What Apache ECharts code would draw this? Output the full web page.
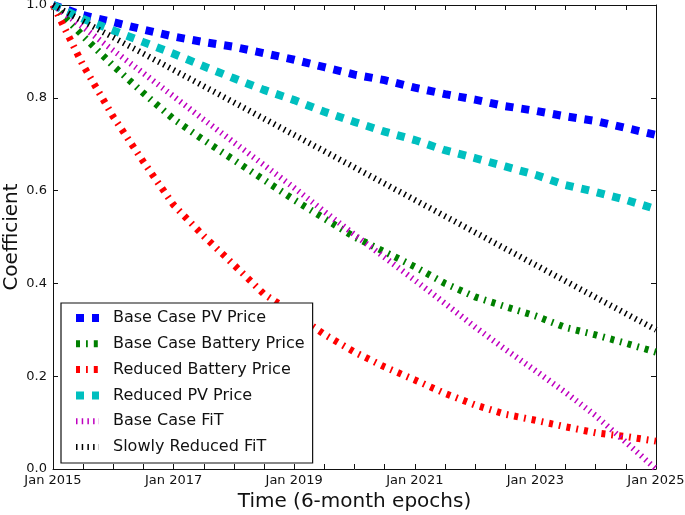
<!DOCTYPE html>
<html>
<head>
<meta charset="utf-8">
<script src="https://cdn.jsdelivr.net/npm/echarts@6/dist/echarts.min.js"></script>
<style>
html, body { margin: 0; padding: 0; background: #fff; }
#coef { width: 685px; height: 515px; }
</style>
</head>
<body>
<div id="coef"></div>
<script>
// 6-month epochs, Jan 2015 .. Jan 2025
var epochs = ['Jan 2015', 'Jul 2015', 'Jan 2016', 'Jul 2016', 'Jan 2017', 'Jul 2017', 'Jan 2018', 'Jul 2018',
  'Jan 2019', 'Jul 2019', 'Jan 2020', 'Jul 2020', 'Jan 2021', 'Jul 2021', 'Jan 2022', 'Jul 2022',
  'Jan 2023', 'Jul 2023', 'Jan 2024', 'Jul 2024', 'Jan 2025']
var yTicks = [0, 0.2, 0.4, 0.6, 0.8, 1.0]

var basePV = [1.0, 0.978, 0.963, 0.947, 0.932, 0.92, 0.91, 0.896, 0.882, 0.866, 0.85, 0.838, 0.822, 0.808, 0.796, 0.782, 0.772, 0.76, 0.75, 0.735, 0.72]
var baseBattery = [1.0, 0.933, 0.869, 0.81, 0.754, 0.709, 0.666, 0.623, 0.58, 0.54, 0.5, 0.468, 0.436, 0.4, 0.371, 0.35, 0.33, 0.305, 0.289, 0.271, 0.252]
var reducedBattery = [1.0, 0.87, 0.759, 0.662, 0.569, 0.502, 0.44, 0.377, 0.335, 0.29, 0.252, 0.22, 0.192, 0.163, 0.138, 0.118, 0.105, 0.091, 0.078, 0.07, 0.06]
var reducedPV = [1.0, 0.97, 0.945, 0.92, 0.895, 0.868, 0.842, 0.817, 0.795, 0.77, 0.748, 0.727, 0.709, 0.687, 0.67, 0.652, 0.634, 0.612, 0.597, 0.58, 0.56]
var baseFiT = [1.0, 0.952, 0.902, 0.853, 0.803, 0.753, 0.704, 0.655, 0.606, 0.555, 0.505, 0.456, 0.407, 0.357, 0.306, 0.258, 0.212, 0.165, 0.115, 0.058, 0.0]
var slowFiT = [1.0, 0.965, 0.93, 0.895, 0.86, 0.825, 0.79, 0.755, 0.72, 0.685, 0.65, 0.615, 0.58, 0.545, 0.51, 0.475, 0.44, 0.405, 0.37, 0.335, 0.30]

var FONT = 'DejaVu Sans'
var INK = '#111'

// name, data, colour, width, dash
var lines = [
  ['Base Case PV Price', basePV, '#0000ff', 8, [8, 8]],
  ['Base Case Battery Price', baseBattery, '#008000', 7, [4, 6, 1.8, 6]],
  ['Reduced Battery Price', reducedBattery, '#ff0000', 7, [4, 6, 1.8, 6]],
  ['Reduced PV Price', reducedPV, '#00bfbf', 8, [8, 8]],
  ['Base Case FiT', baseFiT, '#bf00bf', 6, [1.5, 4.2]],
  ['Slowly Reduced FiT', slowFiT, '#000000', 6, [1.5, 4.2]]
]

var chart = echarts.init(document.getElementById('coef'), null, { renderer: 'canvas' })

var tickStyle = { show: true, inside: true, length: 5, lineStyle: { color: INK, width: 1 } }
var frameLine = { show: true, onZero: false, lineStyle: { color: INK, width: 1 } }

chart.setOption({
  animation: false,
  backgroundColor: '#fff',
  textStyle: { fontFamily: FONT },
  // fixed plot box, don't let labels push it around
  grid: { left: 53, right: 29, top: 5, bottom: 46, outerBoundsMode: 'none', containLabel: false },
  legend: {
    orient: 'vertical',
    left: 61,
    top: 303,
    padding: [7, 8, 8, 11],
    itemWidth: 23,
    itemHeight: 14,
    itemGap: 9.8,
    backgroundColor: '#fff',
    borderColor: INK,
    borderWidth: 1.2,
    borderRadius: 0,
    // only the dashed line as key, no marker
    itemStyle: { opacity: 0 },
    textStyle: { fontFamily: FONT, fontSize: 16, color: INK, padding: [0, 0, 0, 9] },
    data: lines.map(function (l) {
      return { name: l[0], lineStyle: { width: l[3] } }
    })
  },
  xAxis: [
    {
      type: 'category',
      data: epochs,
      boundaryGap: false,
      position: 'bottom',
      axisLine: frameLine,
      axisTick: Object.assign({ interval: 0 }, tickStyle),
      axisLabel: { interval: 3, fontSize: 13, color: INK, fontFamily: FONT, margin: 5 },
      splitLine: { show: false },
      name: 'Time (6-month epochs)',
      nameLocation: 'middle',
      nameGap: 21,
      nameTextStyle: { fontSize: 20, color: INK, fontFamily: FONT }
    },
    {
      type: 'category',
      data: epochs,
      boundaryGap: false,
      position: 'top',
      axisLine: frameLine,
      axisTick: Object.assign({ interval: 0 }, tickStyle),
      axisLabel: { show: false },
      splitLine: { show: false }
    }
  ],
  yAxis: [
    {
      type: 'value',
      min: yTicks[0],
      max: yTicks[yTicks.length - 1],
      interval: 0.2,
      position: 'left',
      axisLine: frameLine,
      axisTick: tickStyle,
      axisLabel: {
        fontSize: 13, color: INK, fontFamily: FONT, margin: 6,
        formatter: function (v) { return v.toFixed(1) }
      },
      splitLine: { show: false },
      name: 'Coefficient',
      nameLocation: 'middle',
      nameGap: 31,
      nameMoveOverlap: false,
      nameTextStyle: { fontSize: 20, color: INK, fontFamily: FONT }
    },
    {
      type: 'value',
      min: yTicks[0],
      max: yTicks[yTicks.length - 1],
      interval: 0.2,
      position: 'right',
      axisLine: frameLine,
      axisTick: tickStyle,
      axisLabel: { show: false },
      splitLine: { show: false }
    }
  ],
  series: lines.map(function (l) {
    return {
      name: l[0],
      type: 'line',
      data: l[1],
      xAxisIndex: 0,
      yAxisIndex: 0,
      symbol: 'none',
      smooth: false,
      color: l[2],
      lineStyle: { color: l[2], width: l[3], type: l[4], cap: 'butt', join: 'miter' }
    }
  })
})
</script>
</body>
</html>
